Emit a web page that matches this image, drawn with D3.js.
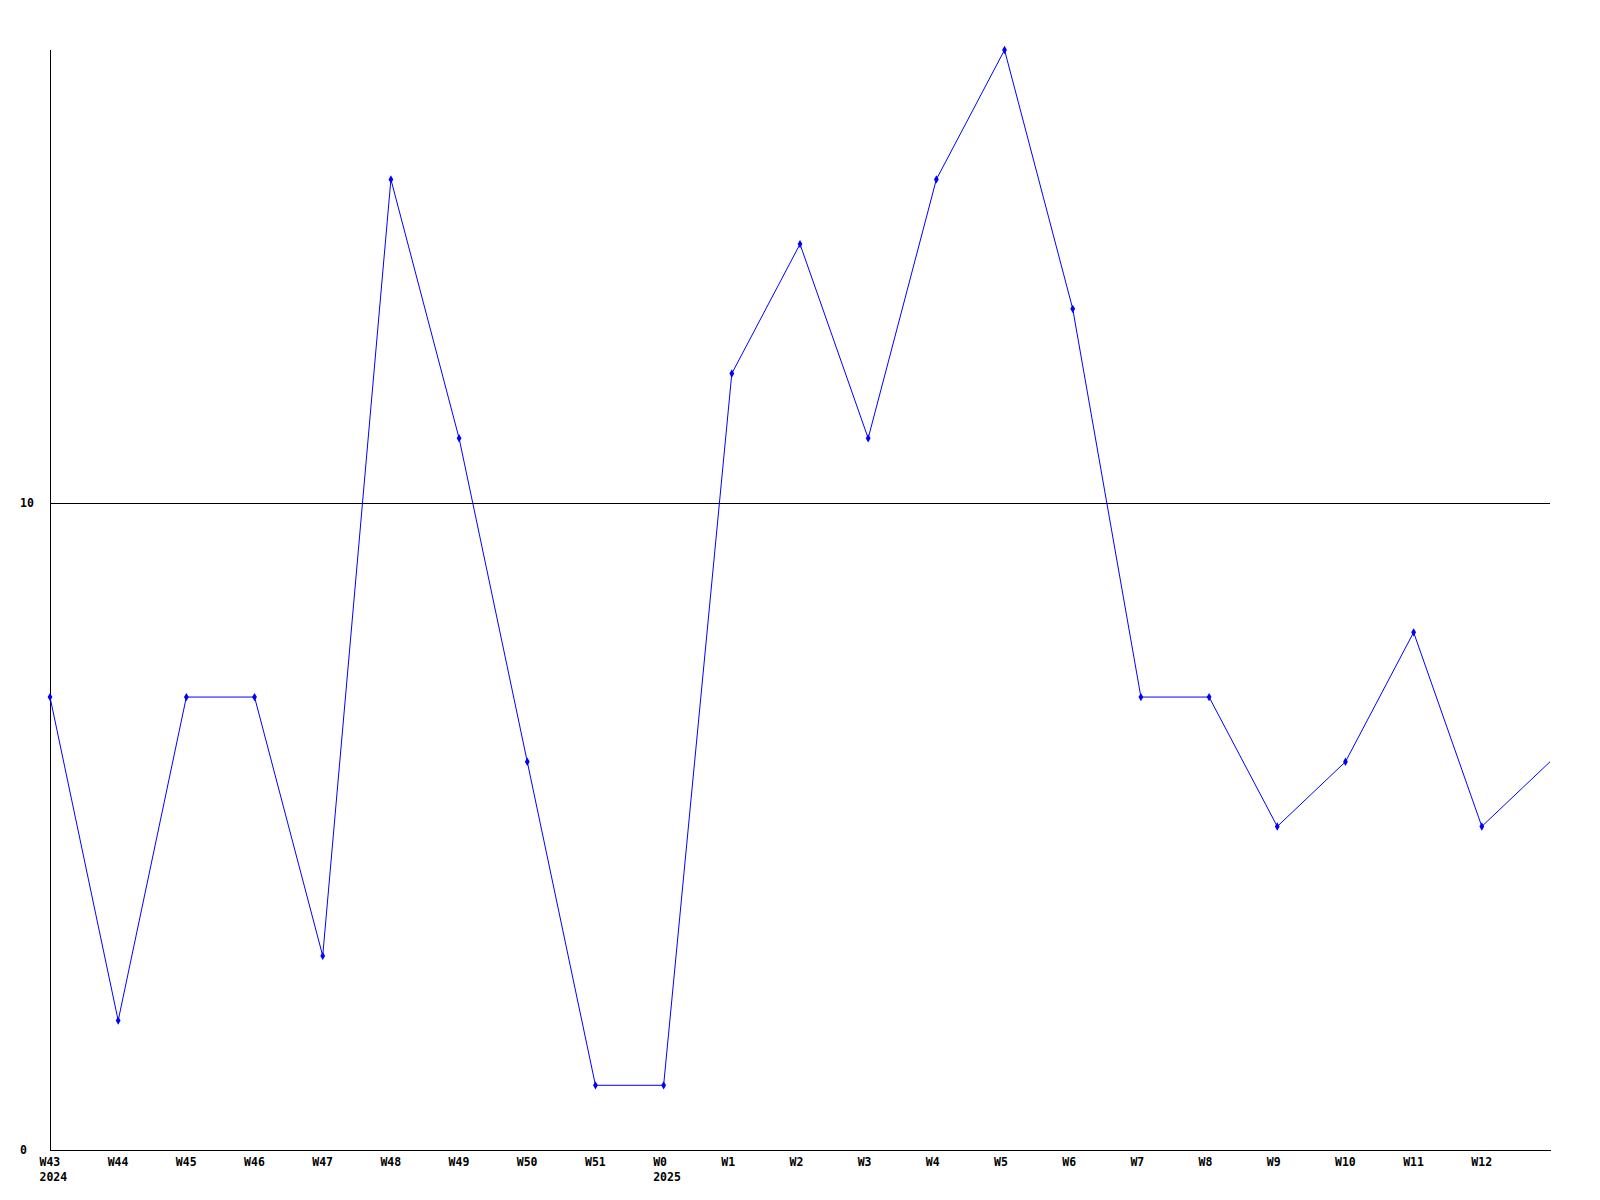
<!DOCTYPE html>
<html>
<head>
<meta charset="utf-8">
<script src="https://cdn.jsdelivr.net/npm/d3@7"></script>
<style>
  html, body { margin: 0; padding: 0; background: #ffffff; }
  svg text { font-family: "DejaVu Sans Mono", "Liberation Mono", monospace; font-weight: bold; font-size: 11.5px; fill: #000; }
</style>
</head>
<body>
<svg id="chart" width="1600" height="1200"></svg>
<script>
// Data
const weekLabels = ["W43","W44","W45","W46","W47","W48","W49","W50","W51","W0","W1","W2","W3","W4","W5","W6","W7","W8","W9","W10","W11","W12","W13"];
const yearLabels = ["2024","","","","","","","","","2025","","","","","","","","","","","","",""];
const values = [7, 2, 7, 7, 3, 15, 11, 6, 1, 1, 12, 14, 11, 15, 17, 13, 7, 7, 5, 6, 8, 5, 6];
const yTicks = [0, 10];

(function () {
  const svg = d3.select("#chart");
  const mLeft = 50, mRight = 1550, mTop = 50, mBottom = 1150;
  const n = values.length;

  const x = d3.scalePoint().domain(d3.range(n)).range([mLeft, mRight]);
  const y = d3.scaleLinear().domain([0, 17]).range([mBottom, mTop]);

  // gridline at 10 and y labels
  yTicks.forEach(t => {
    if (t !== 0) {
      svg.append("line")
        .attr("x1", mLeft).attr("x2", mRight)
        .attr("y1", Math.round(y(t)) + 0.5).attr("y2", Math.round(y(t)) + 0.5)
        .attr("stroke", "#000").attr("stroke-width", 1).attr("shape-rendering", "crispEdges");
    }
    svg.append("text")
      .attr("x", 20).attr("y", Math.round(y(t)))
      .attr("dy", "0.35em")
      .attr("text-anchor", "start")
      .text(t);
  });

  // axes
  svg.append("line")
    .attr("x1", mLeft + 0.5).attr("x2", mLeft + 0.5)
    .attr("y1", mTop).attr("y2", mBottom + 0.5)
    .attr("stroke", "#000").attr("shape-rendering", "crispEdges");
  svg.append("line")
    .attr("x1", mLeft).attr("x2", mRight + 1)
    .attr("y1", mBottom + 0.5).attr("y2", mBottom + 0.5)
    .attr("stroke", "#000").attr("shape-rendering", "crispEdges");

  // x labels (last point has no label)
  weekLabels.forEach((lab, i) => {
    if (i === n - 1) return;
    svg.append("text")
      .attr("x", x(i) - 10.5).attr("y", 1162)
      .attr("dy", "0.35em")
      .attr("text-anchor", "start")
      .text(lab);
    if (yearLabels[i]) {
      svg.append("text")
        .attr("x", x(i) - 10.5).attr("y", 1177)
        .attr("dy", "0.35em")
        .attr("text-anchor", "start")
        .text(yearLabels[i]);
    }
  });

  // line
  const line = d3.line().x((d, i) => x(i)).y(d => y(d));
  svg.append("path")
    .datum(values)
    .attr("d", line)
    .attr("fill", "none")
    .attr("stroke", "#0000ff")
    .attr("stroke-width", 1);

  // markers
  const sym = d3.symbol().type(d3.symbolDiamond).size(20);
  svg.selectAll(".mk")
    .data(values.slice(0, n - 1))
    .join("path")
    .attr("class", "mk")
    .attr("transform", (d, i) => `translate(${x(i)},${y(d)})`)
    .attr("d", sym)
    .attr("fill", "#0000ff");
})();
</script>
</body>
</html>
